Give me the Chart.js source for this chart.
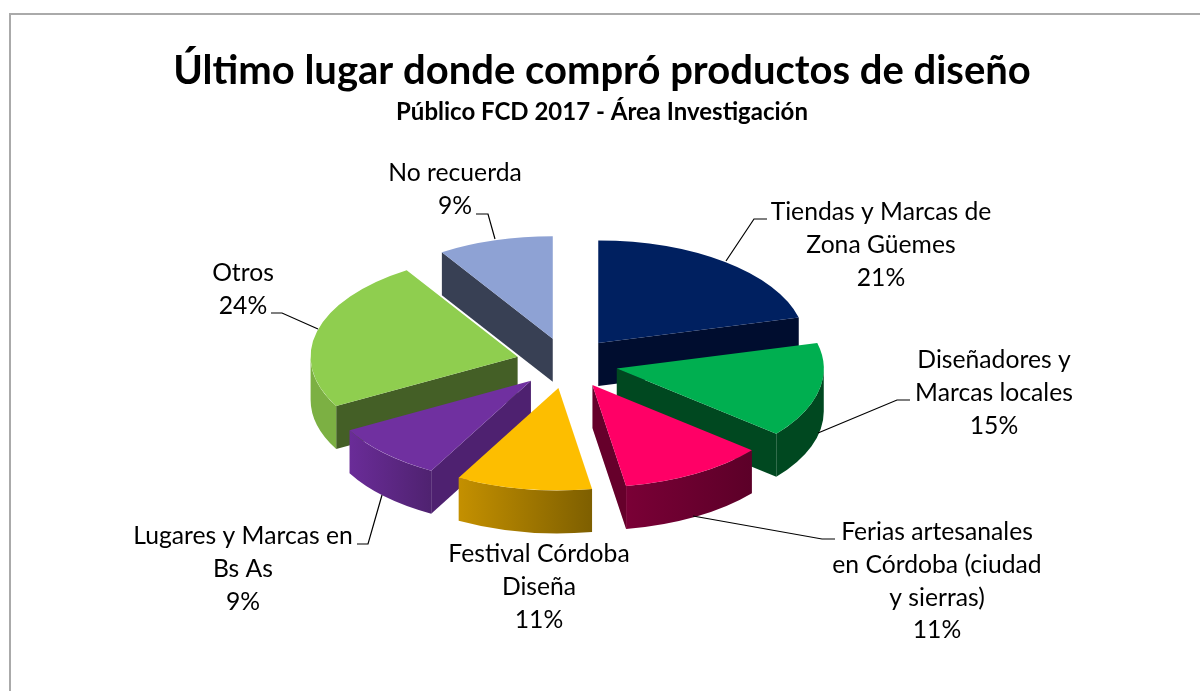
<!DOCTYPE html>
<html lang="es">
<head>
<meta charset="utf-8">
<title>Último lugar donde compró productos de diseño</title>
<script src="https://cdn.jsdelivr.net/npm/chart.js@4"></script>
<style>
    html, body { margin: 0; padding: 0; background: #fff; overflow: hidden; }
    #frame { position: absolute; left: 9px; top: 13px; right: 0; bottom: 0; border-left: 2px solid #aaa; border-top: 2px solid #aaa; }
    #lugares { position: absolute; left: 0; top: 0; }
</style>
</head>
<body>
<div id="frame"></div>
<canvas id="lugares" width="1200" height="691"></canvas>
<script>
const categories = [
    'Tiendas y Marcas de Zona Güemes',
    'Diseñadores y Marcas locales',
    'Ferias artesanales en Córdoba (ciudad y sierras)',
    'Festival Córdoba Diseña',
    'Lugares y Marcas en Bs As',
    'Otros',
    'No recuerda'
];
// the two 11% slices are visibly not the same size in the picture
const values = [21, 15, 11.4, 10.6, 9, 24, 9];

const topColors = ['#002060', '#00AF50', '#FF0066', '#FDBE00', '#7030A0', '#8FCE4F', '#8EA2D4'];
const faceColors = ['#000D2F', '#004820', '#66002B', '#7E5F00', '#4E2170', '#445F26', '#384054'];
const wallFrom = ['#000D2F', '#004820', '#7A0036', '#C49000', '#6A2C98', '#7CB043', '#384054'];
const wallTo = ['#000D2F', '#004820', '#5C0028', '#7E5F00', '#4F2270', '#7CB043', '#384054'];

// label text wrapped the way it is in the picture
const labelLines = [
    ['Tiendas y Marcas de', 'Zona Güemes'],
    ['Diseñadores y', 'Marcas locales'],
    ['Ferias artesanales', 'en Córdoba (ciudad', 'y sierras)'],
    ['Festival Córdoba', 'Diseña'],
    ['Lugares y Marcas en', 'Bs As'],
    ['Otros'],
    ['No recuerda']
];
const labelX = [881, 994, 937, 539, 243, 243, 455];
const labelY = [212, 360, 532, 554, 536, 273, 173];
const labelStep = 32.8;
const leaders = [
    [[767, 219], [754, 219], [726, 261]],
    [[910, 400], [897, 400], [818, 433]],
    [[835, 539], [822, 539], [693, 516]],
    null,
    [[357, 544], [368, 544], [382, 495]],
    [[271, 313], [282, 313], [318, 329]],
    [[476, 214], [488, 214], [495, 239]]
];

const pieCenter = { x: 567, y: 363 };
const squash = 0.495;
const explode = 51;
const depth = 43;
const labelFont = '24.7px Lato';

function drawWalls(ctx, arc, i, ox, oy) {
    const r = arc.outerRadius;
    const a0 = arc.startAngle;
    const a1 = arc.endAngle;
    const sx = ox + r * Math.cos(a0), sy = oy + r * Math.sin(a0) * squash;
    const ex = ox + r * Math.cos(a1), ey = oy + r * Math.sin(a1) * squash;

    const quad = (x, y) => {
        ctx.beginPath();
        ctx.moveTo(ox, oy);
        ctx.lineTo(x, y);
        ctx.lineTo(x, y + depth);
        ctx.lineTo(ox, oy + depth);
        ctx.closePath();
        ctx.fillStyle = faceColors[i];
        ctx.fill();
    };

    // cut faces, only those turned towards the viewer
    if (Math.sin(a0 - Math.PI / 2) > 0) quad(sx, sy);
    if (Math.sin(a1 + Math.PI / 2) > 0) quad(ex, ey);

    // rim, the part of it on the front half of the ellipse
    const from = Math.max(a0, 0);
    const to = Math.min(a1, Math.PI);
    if (to > from) {
        const xa = ox + r * Math.cos(from);
        const xb = ox + r * Math.cos(to);
        const grad = ctx.createLinearGradient(Math.min(xa, xb), 0, Math.max(xa, xb), 0);
        grad.addColorStop(0, wallFrom[i]);
        grad.addColorStop(1, wallTo[i]);
        ctx.beginPath();
        ctx.ellipse(ox, oy, r, r * squash, 0, from, to);
        ctx.ellipse(ox, oy + depth, r, r * squash, 0, to, from, true);
        ctx.closePath();
        ctx.fillStyle = grad;
        ctx.fill();
    }
}

const pie3d = {
    id: 'pie3d',
    beforeDatasetDraw(chart, args) {
        const ctx = chart.ctx;
        const arcs = args.meta.data.map((arc, i) => ({ arc, i, mid: (arc.startAngle + arc.endAngle) / 2 }));
        // back slices first
        arcs.sort((a, b) => Math.sin(a.mid) - Math.sin(b.mid));
        arcs.forEach(({ arc, i, mid }) => {
            const ox = pieCenter.x + explode * Math.cos(mid);
            const oy = pieCenter.y + explode * Math.sin(mid) * squash;
            drawWalls(ctx, arc, i, ox, oy);
            ctx.save();
            ctx.translate(ox, oy);
            ctx.scale(1, squash);
            ctx.translate(-arc.x, -arc.y);
            arc.draw(ctx);
            ctx.restore();
        });
        return false;
    },
    afterDraw(chart) {
        const ctx = chart.ctx;
        ctx.save();
        ctx.strokeStyle = '#000';
        ctx.lineWidth = 1.2;
        leaders.forEach(pts => {
            if (!pts) return;
            ctx.beginPath();
            pts.forEach((p, k) => k ? ctx.lineTo(p[0], p[1]) : ctx.moveTo(p[0], p[1]));
            ctx.stroke();
        });
        ctx.fillStyle = '#000';
        ctx.font = labelFont;
        ctx.textAlign = 'center';
        ctx.textBaseline = 'middle';
        labelLines.forEach((lines, i) => {
            const rows = lines.concat(Math.round(values[i]) + '%');
            rows.forEach((t, k) => ctx.fillText(t, labelX[i], labelY[i] + k * labelStep));
        });
        ctx.restore();
    }
};

new Chart(document.getElementById('lugares').getContext('2d'), {
    type: 'pie',
    data: {
        labels: categories,
        datasets: [{
            data: values,
            backgroundColor: topColors,
            borderWidth: 0,
            radius: 207
        }]
    },
    plugins: [pie3d],
    options: {
        responsive: false,
        animation: false,
        layout: { padding: { left: 4 } },
        plugins: {
            legend: { display: false },
            title: {
                display: true,
                text: 'Último lugar donde compró productos de diseño',
                color: '#000',
                font: { family: 'Lato', size: 40, weight: 'bold' },
                padding: { top: 47, bottom: 3 }
            },
            subtitle: {
                display: true,
                text: 'Público FCD 2017 - Área Investigación',
                color: '#000',
                font: { family: 'Lato', size: 24, weight: 'bold' },
                padding: { top: 0, bottom: 10 }
            }
        }
    }
});
</script>
</body>
</html>
